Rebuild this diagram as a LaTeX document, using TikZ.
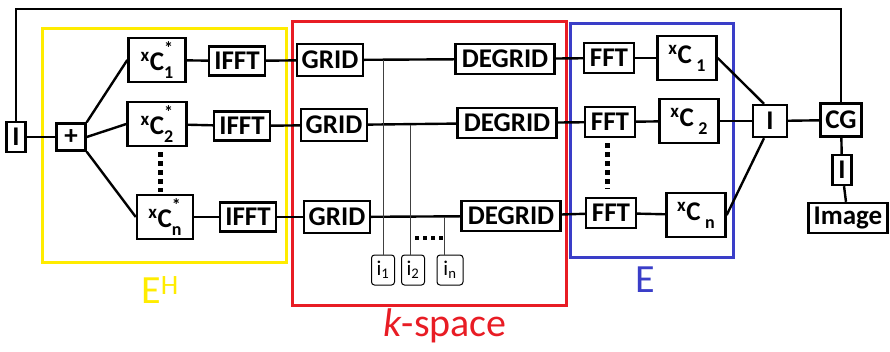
\documentclass[tikz,border=0pt]{standalone}
\usepackage{fontspec}
\setmainfont{Carlito}
\usetikzlibrary{calc,positioning}
\definecolor{ehyellow}{RGB}{255,236,0}
\definecolor{kred}{RGB}{232,28,36}
\definecolor{eblue}{RGB}{58,62,200}
\newcommand{\smallidx}[1]{{\fontsize{18}{18}\selectfont #1}}
\newcommand{\coilconj}[1]{\textsuperscript{x}C\rlap{\raisebox{0.6em}{\smallidx{*}}}\raisebox{-0.3em}{\smallidx{#1}}}
\newcommand{\coilsens}[1]{\textsuperscript{x}C\,\raisebox{-0.3em}{\smallidx{#1}}}

\begin{document}
\begin{tikzpicture}[x=1pt,y=-1pt]
  \tikzset{
    box/.style={draw, line width=2.4pt, fill=white, inner sep=0pt,
      font=\bfseries\fontsize{27}{29}\selectfont},
    idx/.style={draw, line width=1pt, rounded corners=3pt, fill=white,
      inner sep=0pt, minimum width=23, minimum height=30,
      font=\fontsize{21}{23}\selectfont},
    wire/.style={line width=2.4pt},
    probe/.style={line width=0.9pt, black!75},
    frame/.style={line width=3pt},
    vdots/.style={line width=5pt, dash pattern=on 5pt off 4pt},
    hdots/.style={line width=4pt, dash pattern=on 4pt off 4pt},
    tag/.style={font=\fontsize{40}{44}\selectfont},
  }
  \useasboundingbox (0,0) rectangle (890,351);

  % coloured frames
  \draw[frame, ehyellow] (42,28) rectangle (286,262);
  \draw[frame, kred] (292,21) rectangle (566,305);
  \draw[frame, eblue] (570,23) rectangle (733,257);

  \node[tag, ehyellow] (lblEH) at (160,290) {E\textsuperscript{H}};
  \node[tag, kred] (lblK) at (445,326) {\textit{k}-space};
  \node[tag, eblue] (lblE) at (645,280) {E};

  % adjoint side
  \node[box, minimum width=19, minimum height=30] (inI) at (16,137) {I};
  \node[box, minimum width=29, minimum height=27] (plus) at (71,137) {+};
  \node[box, minimum width=57, minimum height=44] (c1s) at (157,60) {\coilconj{1}};
  \node[box, minimum width=59, minimum height=44] (c2s) at (157,124) {\coilconj{2}};
  \node[box, minimum width=56, minimum height=44] (cns) at (165,217) {\coilconj{n}};
  \node[box, minimum width=56, minimum height=29] (ifft1) at (237,61) {IFFT};
  \node[box, minimum width=56, minimum height=29] (ifft2) at (242,126) {IFFT};
  \node[box, minimum width=56, minimum height=29] (ifftn) at (248,217) {IFFT};

  % k-space
  \node[box, minimum width=66, minimum height=32] (grid1) at (330,60) {GRID};
  \node[box, minimum width=66, minimum height=32] (grid2) at (334,125) {GRID};
  \node[box, minimum width=66, minimum height=32] (gridn) at (337,217) {GRID};
  \node[box, minimum width=99, minimum height=30] (degrid1) at (505,59) {DEGRID};
  \node[box, minimum width=99, minimum height=30] (degrid2) at (507,123) {DEGRID};
  \node[box, minimum width=99, minimum height=30] (degridn) at (511,216) {DEGRID};
  \node[idx] (i1) at (383,270) {i\textsubscript{1}};
  \node[idx] (i2) at (413,270) {i\textsubscript{2}};
  \node[idx, minimum width=26] (in) at (450,270) {i\textsubscript{n}};

  % forward side
  \node[box, minimum width=50, minimum height=30] (fft1) at (609,58) {FFT};
  \node[box, minimum width=50, minimum height=30] (fft2) at (610,122) {FFT};
  \node[box, minimum width=50, minimum height=30] (fftn) at (611,213) {FFT};
  \node[box, minimum width=59, minimum height=44] (c1) at (687,58) {\coilsens{1}};
  \node[box, minimum width=59, minimum height=44] (c2) at (689,121) {\coilsens{2}};
  \node[box, minimum width=59, minimum height=44] (cn) at (696,215) {\coilsens{n}};
  \node[box, minimum width=34, minimum height=32] (outI) at (770,121) {I};
  \node[box, minimum width=41, minimum height=33] (cg) at (841,120) {CG};
  \node[box, minimum width=19, minimum height=30] (resI) at (842,170) {I};
  \node[box, minimum width=79, minimum height=30] (img) at (848,218) {Image};

  \coordinate (top) at (0,9);

  \draw[wire] (inI) -- (plus);
  \draw[wire] (plus.north east) -- (c1s.west);
  \draw[wire] (plus.east) -- (c2s.west);
  \draw[wire] (plus.south east) -- (cns.west);
  \draw[wire] (c1s) -- (ifft1);
  \draw[wire] (c2s) -- (ifft2);
  \draw[wire] (cns) -- (ifftn);
  \draw[wire] (ifft1) -- (grid1);
  \draw[wire] (ifft2) -- (grid2);
  \draw[wire] (ifftn) -- (gridn);
  \draw[wire] (grid1) -- (degrid1);
  \draw[wire] (grid2) -- (degrid2);
  \draw[wire] (gridn) -- (degridn);
  \draw[wire] (degrid1) -- (fft1);
  \draw[wire] (degrid2) -- (fft2);
  \draw[wire] (degridn) -- (fftn);
  \draw[wire] (fft1) -- (c1);
  \draw[wire] (fft2) -- (c2);
  \draw[wire] (fftn) -- (cn);
  \draw[wire] (c1.east) -- ([xshift=-6pt]outI.north);
  \draw[wire] (c2) -- (outI);
  \draw[wire] (cn.east) -- ([xshift=-6pt]outI.south);
  \draw[wire] (outI) -- (cg);
  \draw[wire] (cg) -- (resI);
  \draw[wire] (resI) -- (img);
  \draw[wire] (inI.north) |- (top -| cg.north) -- (cg.north);

  % sample index lines
  \draw[probe] (i1.north) -- (i1.north |- grid1.east);
  \draw[probe] ([xshift=-3pt]i2.north) -- ([xshift=-3pt]i2.north |- grid2.east);
  \draw[probe] ([xshift=-6pt]in.north) -- ([xshift=-6pt]in.north |- gridn.east);

  % ellipsis dots
  \draw[vdots] ($(c2s.south)+(3,5)$) -- ($(c2s.south |- cns.north)+(3,-2)$);
  \draw[vdots] ($(fft2.south)+(-3,5)$) -- ($(fft2.south |- fftn.north)+(-3,-8)$);
  \draw[hdots] ($(i2.north)+(2,-17)$) -- ($(in.north)+(-6,-17)$);
\end{tikzpicture}
\end{document}
